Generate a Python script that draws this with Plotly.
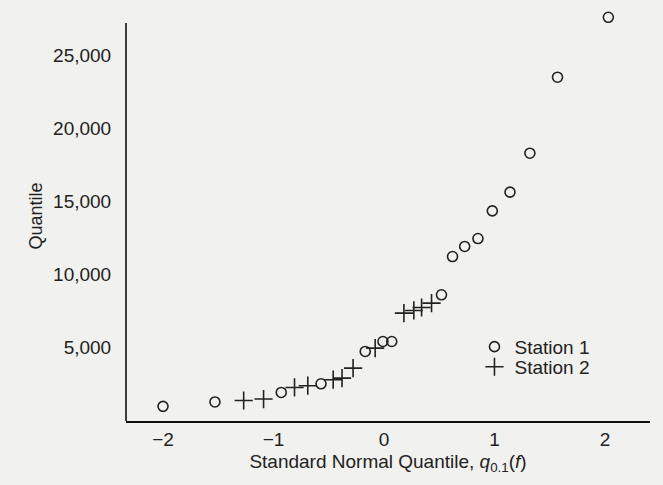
import plotly.graph_objects as go

# Station 1 (open circles): standard normal quantile vs. quantile
s1_q = [-2.00, -1.53, -0.93, -0.57, -0.17, -0.01, 0.07, 0.52, 0.62, 0.73, 0.85, 0.98, 1.14, 1.32, 1.57, 2.03]
s1_v = [1000, 1300, 1950, 2540, 4750, 5430, 5430, 8620, 11230, 11920, 12460, 14350, 15630, 18290, 23480, 27570]

# Station 2 (plus signs)
s2_q = [-1.27, -1.09, -0.81, -0.69, -0.46, -0.38, -0.28, -0.08, 0.18, 0.27, 0.34, 0.43]
s2_v = [1400, 1500, 2290, 2410, 2820, 2930, 3610, 4980, 7370, 7550, 7750, 8050]

x_ticks = [-2, -1, 0, 1, 2]
y_ticks = [5000, 10000, 15000, 20000, 25000]
y_axis_top = 27185

ink = "#222222"
bg = "#f1f1ef"
font = "Liberation Sans, Arial, sans-serif"

fig = go.Figure()
fig.add_trace(go.Scatter(
    x=s1_q, y=s1_v, mode="markers", name="Station 1", legend="legend",
    marker=dict(symbol="circle-open", size=10, color=ink, line=dict(width=1.6, color=ink)),
    cliponaxis=False,
))
fig.add_trace(go.Scatter(
    x=s2_q, y=s2_v, mode="markers", name="Station 2", legend="legend2",
    marker=dict(symbol="cross-thin-open", size=13, color=ink, line=dict(width=1.6, color=ink)),
    cliponaxis=False,
))

# vertical axis line stops at the top of the axis (a few points rise above it)
fig.add_shape(type="line", xref="paper", yref="y", x0=0, x1=0, y0=0, y1=y_axis_top,
              line=dict(color="#111111", width=1.6))

leg_common = dict(xanchor="left", yanchor="middle", bgcolor="rgba(0,0,0,0)",
                  font=dict(size=19, color=ink), itemwidth=30, borderwidth=0)

fig.update_layout(
    width=663, height=485,
    margin=dict(l=126, r=13, t=11, b=64),
    paper_bgcolor=bg, plot_bgcolor=bg,
    font=dict(family=font, size=19, color=ink),
    showlegend=True,
    legend=dict(x=0.665, y=0.181, **leg_common),
    legend2=dict(x=0.665, y=0.132, **leg_common),
    xaxis=dict(
        range=[-2.335, 2.407], tickvals=x_ticks,
        showgrid=False, zeroline=False,
        showline=True, linecolor="#111111", linewidth=1.6,
        ticks="", ticklen=0,
        tickfont=dict(size=19, color=ink),
        title=dict(text="Standard Normal Quantile, <i>q</i><sub>0.1</sub>(<i>f</i>)",
                   font=dict(size=19, color=ink), standoff=6),
    ),
    yaxis=dict(
        range=[0, 28000], tickvals=y_ticks, tickformat=",d",
        showgrid=False, zeroline=False, showline=False,
        ticks="outside", ticklen=10, tickcolor="rgba(0,0,0,0)",
        tickfont=dict(size=19, color=ink),
        title=dict(text="Quantile", font=dict(size=18, color=ink), standoff=5),
    ),
)

fig.write_html("out.html")
